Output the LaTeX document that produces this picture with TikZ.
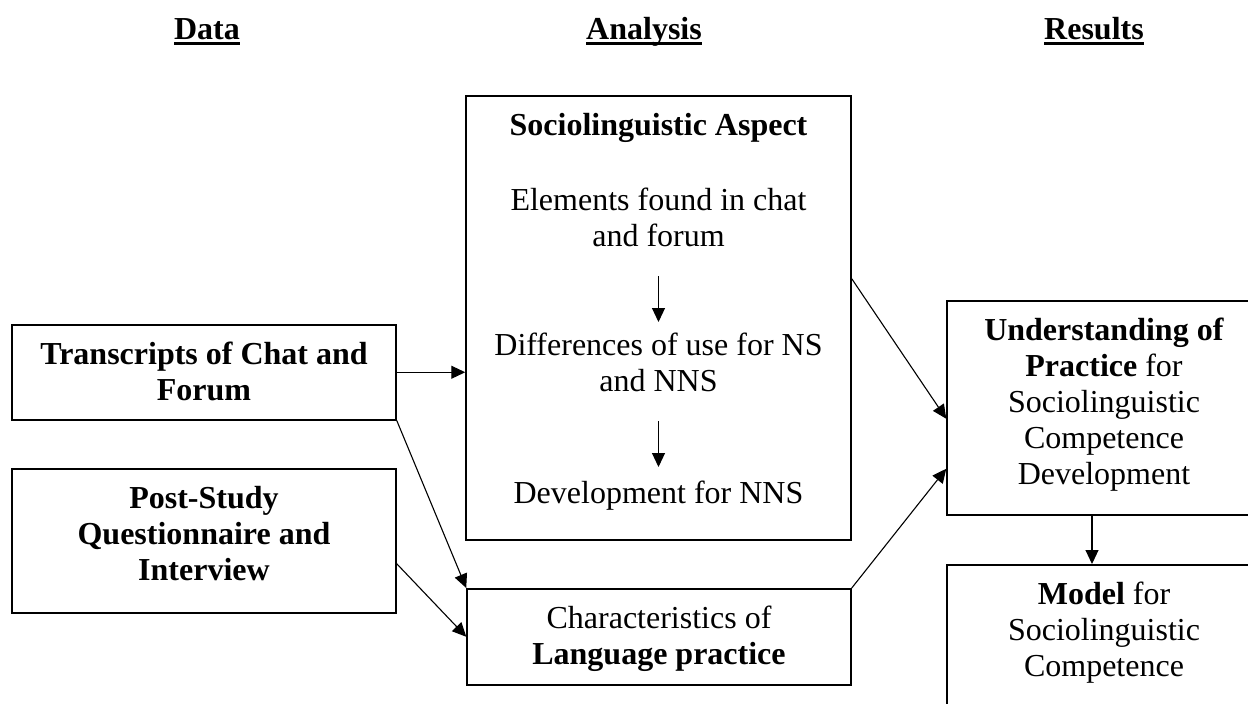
\documentclass[tikz,border=0pt]{standalone}
\usepackage{fontspec}
\setmainfont{Liberation Serif}
\usetikzlibrary{arrows.meta}

\newcommand{\ulhead}[1]{\setbox0\hbox{\textbf{#1}}\rlap{\rule[-3pt]{\wd0}{1.5pt}}\box0}

\begin{document}
\begin{tikzpicture}[x=0.5pt, y=-0.5pt,
    box/.style={rectangle, draw, line width=0.75pt, anchor=north, text width=#1, inner xsep=4pt, inner ysep=9pt, text height=11pt, align=flush center, font=\fontsize{16}{18}\selectfont},
    box/.default=184pt,
    txt/.style={anchor=north, text width=184pt, inner sep=0pt, text height=11pt, align=flush center, font=\fontsize{16}{18}\selectfont},
    head/.style={anchor=base, inner sep=0pt, font=\fontsize{16}{18}\selectfont},
    link/.style={-{Triangle[length=7pt,width=6.5pt]}, line width=0.55pt}]
    \useasboundingbox (0,0) rectangle (1248,703);
    \clip (0,0) rectangle (1248,703);

    \node[head] (hdata) at (207,39) {\ulhead{Data}};
    \node[head] (hana) at (644,39) {\ulhead{Analysis}};
    \node[head] (hres) at (1094,39) {\ulhead{Results}};

    \node[box, text depth=18.5pt] (trans) at (204,324) {\textbf{Transcripts of Chat and}\\\textbf{Forum}};
    \node[box, text depth=43pt] (post) at (204,468) {\textbf{Post-Study}\\\textbf{Questionnaire and}\\\textbf{Interview}};
    \node[box=184.5pt, text depth=193pt] (soc) at (658.5,95) {\textbf{Sociolinguistic Aspect}};
    \node[txt] (elem) at (658.5,188) {Elements found in chat\\and forum};
    \node[txt] (diff) at (658.5,333) {Differences of use for NS\\and NNS};
    \node[txt] (dev) at (658.5,481) {Development for NNS};
    \node[box, text depth=19pt] (lang) at (659,588) {Characteristics of\\\textbf{Language practice}};
    \node[box=149pt, text depth=78pt] (und) at (1104,300) {\textbf{Understanding of}\\\textbf{Practice} for\\Sociolinguistic\\Competence\\Development};
    \node[box=149pt, text depth=80pt] (model) at (1104,564) {\textbf{Model} for\\Sociolinguistic\\Competence};

    \draw[link] (trans.east) -- (trans.east -| soc.west);
    \draw[link] (trans.south east) -- (lang.north west);
    \draw[link] ([yshift=-11.5pt]post.east) -- (lang.west);
    \draw[link, shorten <=14.5pt, shorten >=5.5pt] (elem.south) -- (diff.north);
    \draw[link, shorten <=14.5pt, shorten >=7pt] (diff.south) -- (dev.north);
    \draw[link] ([yshift=19.5pt]soc.east) -- ([yshift=-5.5pt]und.west);
    \draw[link] (lang.north east) -- ([yshift=-30.5pt]und.west);
    \draw[link] ([xshift=-6pt]und.south) -- ([xshift=-6pt]model.north);
\end{tikzpicture}
\end{document}
